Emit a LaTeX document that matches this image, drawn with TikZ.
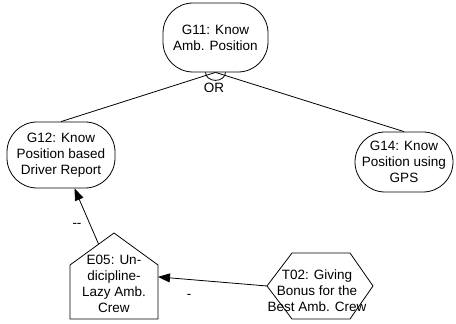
\documentclass[tikz,border=0pt]{standalone}
\usepackage{fontspec}
\setmainfont{Liberation Sans}
\usetikzlibrary{arrows.meta,calc}
\tikzset{
  goalbox/.style={draw, line width=0.8pt, rounded corners=30pt, align=center,
    font=\fontsize{13.5}{16}\selectfont, inner sep=0pt},
  plain/.style={align=center, font=\fontsize{13.5}{16}\selectfont, inner sep=0pt},
  edge/.style={line width=0.8pt},
  contrib/.style={line width=0.8pt, -{Triangle[length=12pt,width=9pt]}},
  outline/.style={line width=0.8pt, line join=miter},
}
\begin{document}
\begin{tikzpicture}[x=1pt,y=1pt]
  \useasboundingbox (0,0) rectangle (456,324);

  % goals
  \node[goalbox, minimum width=105pt, minimum height=69pt] (g11) at (215.5,286.5)
    {G11: Know\\Amb. Position};
  \node[goalbox, minimum width=108pt, minimum height=66pt] (g12) at (61,169)
    {G12: Know\\Position based\\Driver Report};
  \node[goalbox, minimum width=98pt, minimum height=60pt] (g14) at (404,162)
    {G14: Know\\Position using\\GPS};

  % OR decomposition
  \draw[edge] (g11.south) -- (g12.north);
  \draw[edge] (g11.south) -- (g14.north);
  \draw[edge] ([xshift=-10pt]g11.south) arc[start angle=180, end angle=360, x radius=10pt, y radius=8pt];
  \node[plain] (or) at (214,236) {OR};

  % event E05 (house shape)
  \coordinate (e05sw) at (70,5);
  \coordinate (e05se) at (158,5);
  \coordinate (e05ne) at (158,59);
  \coordinate (e05nw) at (70,59);
  \coordinate (e05top) at (114,91);
  \draw[outline] (e05sw) -- (e05se) -- (e05ne) -- (e05top) -- (e05nw) -- cycle;
  \node[plain] (e05) at (114,40) {E05: Un-\\dicipline-\\Lazy Amb.\\Crew};

  % task T02 (hexagon)
  \coordinate (t02w) at (267,38);
  \coordinate (t02nw) at (292,71);
  \coordinate (t02ne) at (350,71);
  \coordinate (t02e) at (373,38);
  \coordinate (t02se) at (350,5);
  \coordinate (t02sw) at (292,5);
  \draw[outline] (t02w) -- (t02nw) -- (t02ne) -- (t02e) -- (t02se) -- (t02sw) -- cycle;
  \node[plain] (t02) at (317,33) {T02: Giving\\Bonus for the\\Best Amb. Crew};

  % contributions
  \draw[contrib] ($(e05nw)!0.65!(e05top)$) -- (g12.-68);
  \node[plain] (lbl1) at (77,99) {{-}{-}};
  \draw[contrib] (t02w) -- ($(e05se)!0.78!(e05ne)$);
  \node[plain] (lbl2) at (189,28) {-};
\end{tikzpicture}
\end{document}
